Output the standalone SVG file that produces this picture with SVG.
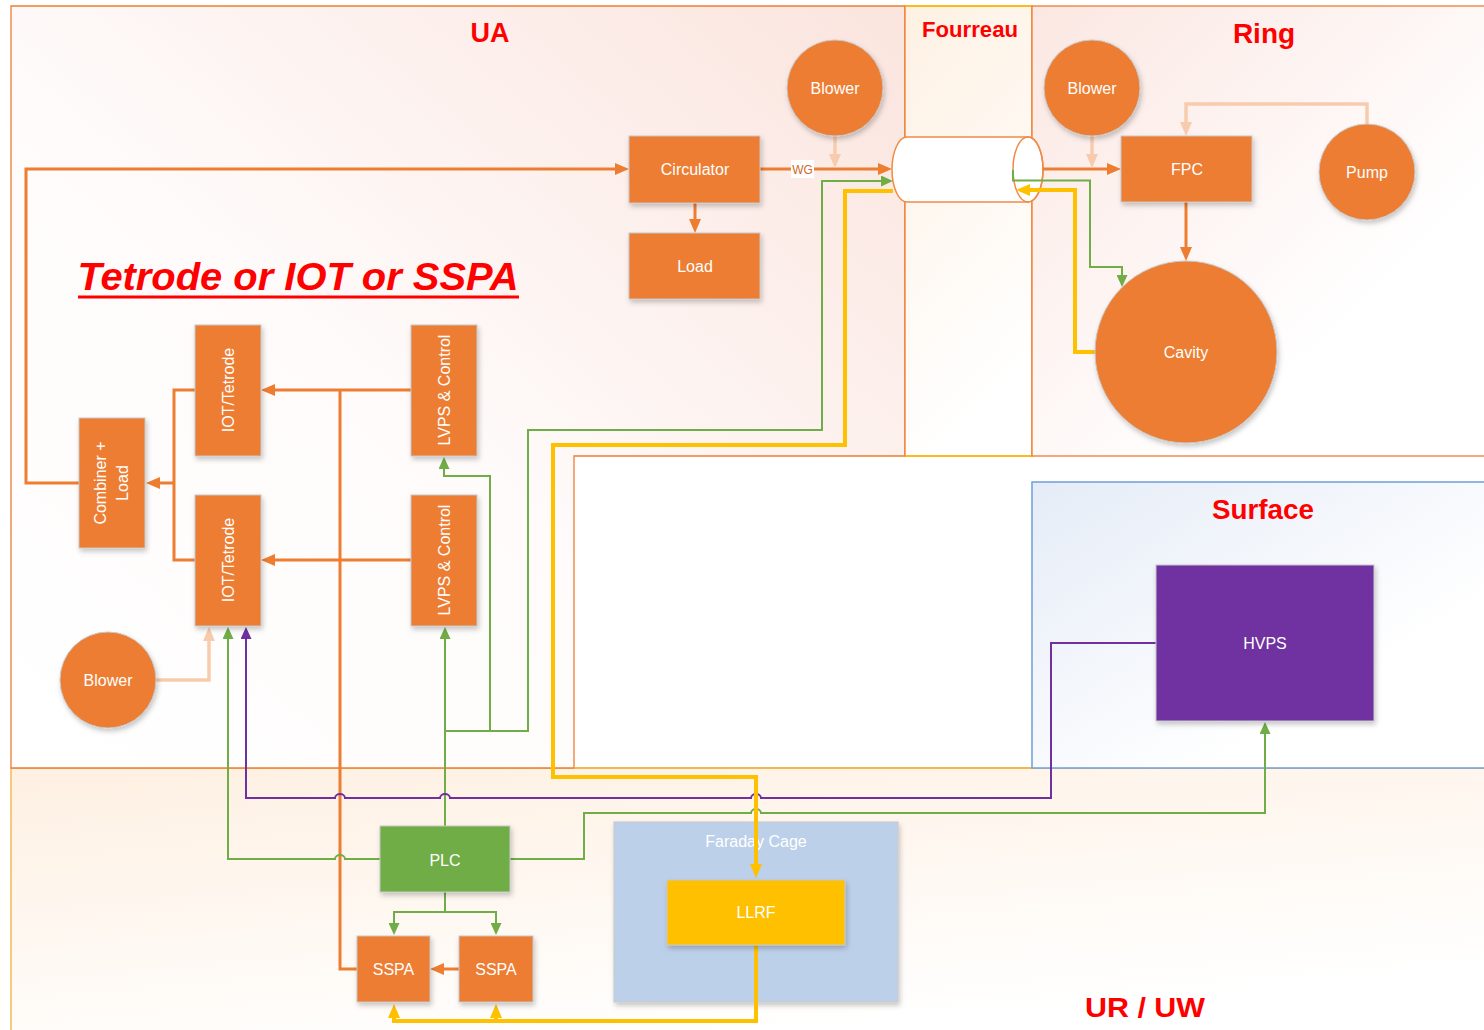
<svg xmlns="http://www.w3.org/2000/svg" width="1484" height="1030" viewBox="0 0 1484 1030">
<style>
.reg{stroke-width:1.3}
.ttl{font-family:"Liberation Sans",Arial,sans-serif;font-weight:bold;fill:#FF0000;text-anchor:middle}
.nd{fill:#ED7D31;stroke:#C8C8C8;stroke-width:1;filter:url(#sh)}
.lb{font-family:"Liberation Sans",Arial,sans-serif;font-size:16px;fill:#FFFFFF;text-anchor:middle}
.c{fill:none;stroke-linejoin:miter}
.co{stroke:#ED7D31;stroke-width:3}
.cp{stroke:#F8CBAD;stroke-width:3.5}
.cg{stroke:#70AD47;stroke-width:2}
.cu{stroke:#7030A0;stroke-width:2}
.cy{stroke:#FFC000;stroke-width:4}
</style>
<defs>
<filter id="sh" x="-20%" y="-20%" width="150%" height="150%"><feDropShadow dx="1.5" dy="3" stdDeviation="2.5" flood-color="#000" flood-opacity="0.22"/></filter>
<linearGradient id="gUA" x1="0" y1="1" x2="1" y2="0"><stop offset="0" stop-color="#FFFFFF"/><stop offset="0.45" stop-color="#FEFBFA"/><stop offset="1" stop-color="#FBE4DE"/></linearGradient>
<linearGradient id="gFo" x1="0" y1="0" x2="0.3" y2="1"><stop offset="0" stop-color="#FEF1E3"/><stop offset="1" stop-color="#FFFFFF"/></linearGradient>
<linearGradient id="gRi" x1="0" y1="0" x2="1" y2="1"><stop offset="0" stop-color="#FBE7E2"/><stop offset="0.7" stop-color="#FFFFFF"/></linearGradient>
<linearGradient id="gSu" x1="0" y1="0" x2="1" y2="1"><stop offset="0" stop-color="#E5ECF7"/><stop offset="0.7" stop-color="#FFFFFF"/></linearGradient>
<linearGradient id="gUR" x1="0" y1="0" x2="0.5" y2="1"><stop offset="0" stop-color="#FEF0E2"/><stop offset="1" stop-color="#FFFFFF"/></linearGradient>
<marker id="aO" viewBox="0 0 14 12" markerUnits="userSpaceOnUse" markerWidth="14" markerHeight="12" refX="9" refY="6" orient="auto"><path d="M0,0 L14,6 L0,12 z" fill="#ED7D31"/></marker>
<marker id="aP" viewBox="0 0 14 12" markerUnits="userSpaceOnUse" markerWidth="14" markerHeight="12" refX="9" refY="6" orient="auto"><path d="M0,0 L14,6 L0,12 z" fill="#F8CBAD"/></marker>
<marker id="aY" viewBox="0 0 14 12" markerUnits="userSpaceOnUse" markerWidth="14" markerHeight="12" refX="9" refY="6" orient="auto"><path d="M0,0 L14,6 L0,12 z" fill="#FFC000"/></marker>
<marker id="aG" viewBox="0 0 12 11" markerUnits="userSpaceOnUse" markerWidth="12" markerHeight="11" refX="8" refY="5.5" orient="auto"><path d="M0,0 L12,5.5 L0,11 z" fill="#70AD47"/></marker>
<marker id="aU" viewBox="0 0 12 11" markerUnits="userSpaceOnUse" markerWidth="12" markerHeight="11" refX="8" refY="5.5" orient="auto"><path d="M0,0 L12,5.5 L0,11 z" fill="#7030A0"/></marker>
</defs>
<rect width="1484" height="1030" fill="#FFFFFF"/>
<g id="regions">
<rect id="region-urw" x="11" y="768" width="1480" height="270" fill="url(#gUR)" stroke="#F0B23C" class="reg"/>
<path id="region-ua" d="M11,6 H905 V456 H574 V768 H11 Z" fill="url(#gUA)" stroke="#ED7D31" class="reg"/>
<rect id="region-fourreau" x="905" y="6" width="127" height="450" fill="url(#gFo)" stroke="#ED7D31" class="reg"/>
<path d="M905,6 H1032 M905,456 H1032" stroke="#FFC000" stroke-width="1.3"/>
<rect id="region-ring" x="1032" y="6" width="460" height="450" fill="url(#gRi)" stroke="#ED7D31" class="reg"/>
<path d="M574,768 H1032" stroke="#F0B23C" stroke-width="1.3"/>
<rect id="region-surface" x="1032" y="482" width="460" height="286" fill="url(#gSu)" stroke="#6F9FD8" stroke-width="1.5"/>
<text class="ttl" x="490" y="42" font-size="27" textLength="39" lengthAdjust="spacingAndGlyphs">UA</text>
<text class="ttl" x="970" y="37" font-size="22" textLength="96" lengthAdjust="spacingAndGlyphs">Fourreau</text>
<text class="ttl" x="1264" y="43" font-size="28">Ring</text>
<text class="ttl" x="1263" y="519" font-size="28" textLength="102" lengthAdjust="spacingAndGlyphs">Surface</text>
<text class="ttl" x="1145" y="1017" font-size="28" textLength="120" lengthAdjust="spacingAndGlyphs">UR / UW</text>
<text class="ttl" x="298" y="290" font-size="39.5" font-style="italic" textLength="441" lengthAdjust="spacingAndGlyphs">Tetrode or IOT or SSPA</text>
<line x1="78" y1="297" x2="519" y2="297" stroke="#FF0000" stroke-width="3"/>
</g>
<g id="faraday-cage">
<rect x="614" y="822" width="284" height="180" fill="#BDD0E9" stroke="#C8C8C8" stroke-width="1" filter="url(#sh)"/>
<text class="lb" x="756" y="847" fill="#F2F2F2">Faraday Cage</text>
</g>
<g id="waveguide">
<path d="M907,137 H1028 A15,32.5 0 0 1 1028,202 H907 A15,32.5 0 0 1 907,137 Z" fill="#FFFFFF" stroke="#F08A45" stroke-width="1.5"/>
<ellipse cx="1028" cy="169.5" rx="15" ry="32.5" fill="none" stroke="#F08A45" stroke-width="1.5"/>
</g>
<g id="connectors">
<path class="c co" d="M79,483 H26 V169 H624" marker-end="url(#aO)"/>
<path class="c co" d="M760,169 H887" marker-end="url(#aO)"/>
<path class="c co" d="M695,203 V228" marker-end="url(#aO)"/>
<path class="c co" d="M1043,169 H1116" marker-end="url(#aO)"/>
<path class="c co" d="M1186,202 V256" marker-end="url(#aO)"/>
<path class="c co" d="M195,390 H174 V560 H195"/>
<path class="c co" d="M174,483 H151" marker-end="url(#aO)"/>
<path class="c co" d="M411,390 H266" marker-end="url(#aO)"/>
<path class="c co" d="M411,560 H266" marker-end="url(#aO)"/>
<path class="c co" d="M357,969 H340 V390"/>
<path class="c co" d="M459,969 H435" marker-end="url(#aO)"/>
<path class="c cp" d="M835,136 V163" marker-end="url(#aP)"/>
<path class="c cp" d="M1092,136 V163" marker-end="url(#aP)"/>
<path class="c cp" d="M1367,124 V104 H1186 V131" marker-end="url(#aP)"/>
<path class="c cp" d="M156,680 H209 V632" marker-end="url(#aP)"/>
<path class="c cg" d="M380,859 H345 a5,4 0 0 0 -10,0 H228 V631" marker-end="url(#aG)"/>
<path class="c cg" d="M445,826 V631" marker-end="url(#aG)"/>
<path class="c cg" d="M445,731 H490 V476 H444 V461" marker-end="url(#aG)"/>
<path class="c cg" d="M490,731 H528 V430 H822 V181 H889" marker-end="url(#aG)"/>
<path class="c cg" d="M1013,170 V180.5 H1090 V267 H1122 V283" marker-end="url(#aG)"/>
<path class="c cg" d="M510,859 H584 V813 H751 a5,4 0 0 1 10,0 H1265 V726" marker-end="url(#aG)"/>
<path class="c cg" d="M445,892 V912 H394 V931" marker-end="url(#aG)"/>
<path class="c cg" d="M445,912 H496 V931" marker-end="url(#aG)"/>
<path class="c cu" d="M1156,643 H1051 V798 H761 a5,4 0 0 0 -10,0 H450 a5,4 0 0 0 -10,0 H345 a5,4 0 0 0 -10,0 H246 V631" marker-end="url(#aU)"/>
<path class="c cy" d="M1095,352 H1075 V190 H1021" marker-end="url(#aY)"/>
<path class="c cy" d="M893,191 H845 V445 H553 V777 H756 V873" marker-end="url(#aY)"/>
<path class="c cy" d="M756,944 V1021 H394 V1009" marker-end="url(#aY)"/>
<path class="c cy" d="M496,1021 V1009" marker-end="url(#aY)"/>
<rect x="791" y="160" width="23" height="18" fill="#FFFFFF"/>
<text x="802.5" y="174" font-family="Liberation Sans,Arial,sans-serif" font-size="12" fill="#D0692A" text-anchor="middle">WG</text>
</g>
<g id="circulator"><rect class="nd" x="629" y="136" width="131" height="67"/><text class="lb" x="695" y="175">Circulator</text></g>
<g id="load"><rect class="nd" x="629" y="233" width="131" height="66"/><text class="lb" x="695" y="272">Load</text></g>
<g id="blower-ua"><circle class="nd" cx="835" cy="88" r="48"/><text class="lb" x="835" y="94">Blower</text></g>
<g id="blower-ring"><circle class="nd" cx="1092" cy="88" r="48"/><text class="lb" x="1092" y="94">Blower</text></g>
<g id="fpc"><rect class="nd" x="1121" y="136" width="131" height="66"/><text class="lb" x="1187" y="175">FPC</text></g>
<g id="pump"><circle class="nd" cx="1367" cy="172" r="48"/><text class="lb" x="1367" y="178">Pump</text></g>
<g id="cavity"><circle class="nd" cx="1186" cy="352" r="91"/><text class="lb" x="1186" y="358">Cavity</text></g>
<g id="iot-1"><rect class="nd" x="195" y="325" width="66" height="131"/><text class="lb" transform="translate(228,390) rotate(-90)" y="5.6">IOT/Tetrode</text></g>
<g id="iot-2"><rect class="nd" x="195" y="495" width="66" height="131"/><text class="lb" transform="translate(228,560) rotate(-90)" y="5.6">IOT/Tetrode</text></g>
<g id="lvps-1"><rect class="nd" x="411" y="325" width="66" height="131"/><text class="lb" transform="translate(444,390) rotate(-90)" y="5.6">LVPS &amp; Control</text></g>
<g id="lvps-2"><rect class="nd" x="411" y="495" width="66" height="131"/><text class="lb" transform="translate(444,560) rotate(-90)" y="5.6">LVPS &amp; Control</text></g>
<g id="combiner"><rect class="nd" x="79" y="418" width="66" height="130"/><text class="lb" transform="translate(112,483) rotate(-90)"><tspan x="0" y="-5.6">Combiner +</tspan><tspan x="0" y="16.4">Load</tspan></text></g>
<g id="blower-left"><circle class="nd" cx="108" cy="680" r="48"/><text class="lb" x="108" y="686">Blower</text></g>
<g id="plc"><rect class="nd" x="380" y="826" width="130" height="66" style="fill:#70AD47"/><text class="lb" x="445" y="866">PLC</text></g>
<g id="sspa-1"><rect class="nd" x="357" y="936" width="73" height="66"/><text class="lb" x="393.5" y="975">SSPA</text></g>
<g id="sspa-2"><rect class="nd" x="459" y="936" width="74" height="66"/><text class="lb" x="496" y="975">SSPA</text></g>
<g id="llrf"><rect class="nd" x="667" y="880" width="178" height="65" style="fill:#FFC000"/><text class="lb" x="756" y="918">LLRF</text></g>
<g id="hvps"><rect class="nd" x="1156" y="565" width="218" height="156" style="fill:#7030A0"/><text class="lb" x="1265" y="649" fill="#EDE4F4">HVPS</text></g>
</svg>
